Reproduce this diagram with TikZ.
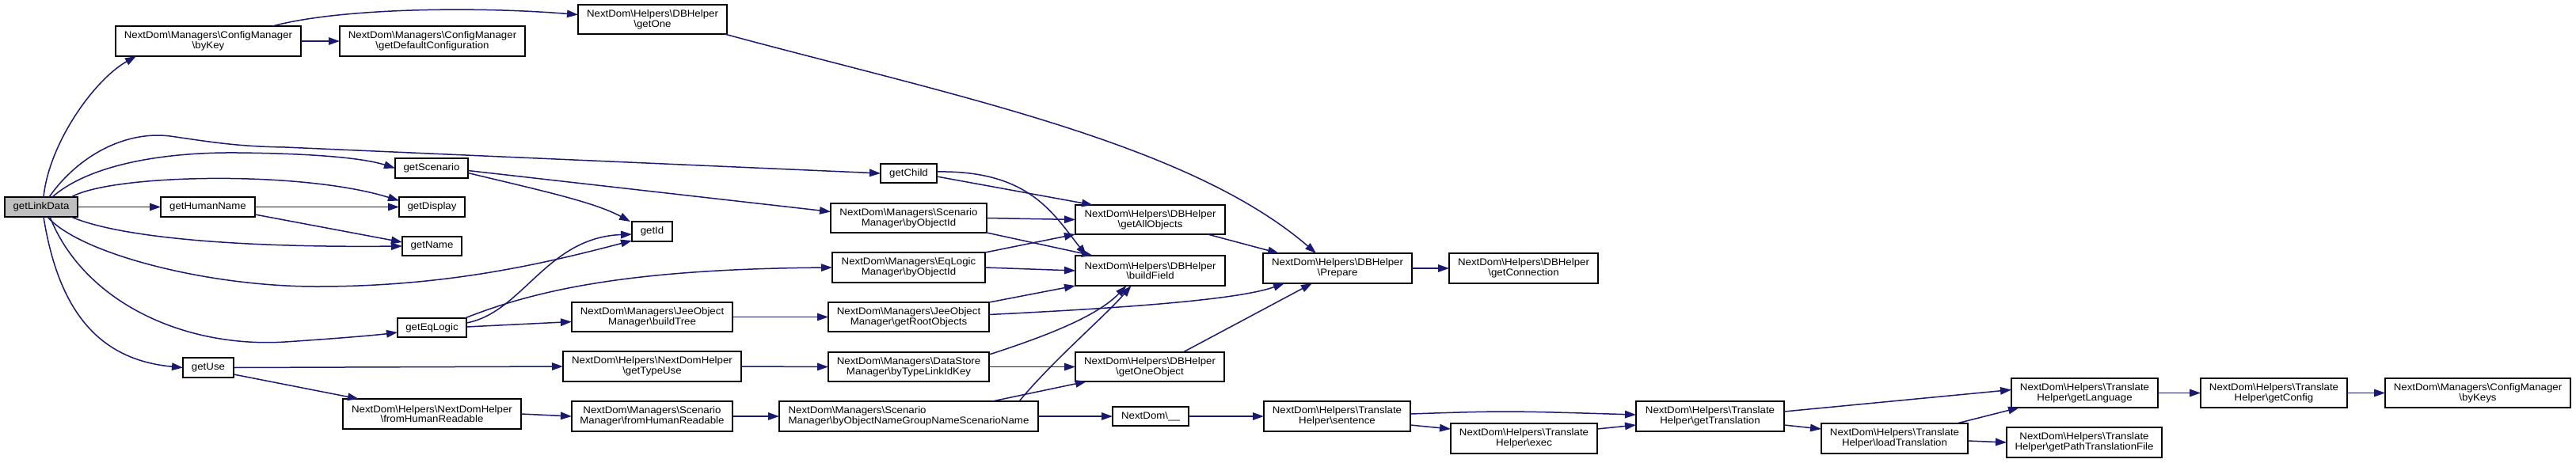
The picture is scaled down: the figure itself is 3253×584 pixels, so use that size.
\documentclass[tikz,border=0pt]{standalone}
\usepackage{fontspec}
\setmainfont{Liberation Sans}[FakeStretch=1.07]
\usetikzlibrary{arrows.meta,calc}
\definecolor{edgecol}{HTML}{191970}
\definecolor{startfill}{HTML}{BFBFBF}
\newcommand\bs{\textbackslash}
\tikzset{
  box/.style={draw=black, line width=1.6pt, fill=white, inner sep=0pt, outer sep=0pt,
    align=center, font=\fontsize{12.4pt}{12.8pt}\selectfont},
  edge/.style={draw=edgecol, line width=1.5pt, -{Triangle[length=14pt,width=9.5pt]}},
}
\newcommand\bx[7][]{\node[box,#1,minimum width={#5-#3},minimum height={#6-#4}] (#2) at ({(#3+#5)/2},{(#4+#6)/2}) {#7};}
\begin{document}
\begin{tikzpicture}[x=1pt,y=-1pt]
\useasboundingbox[fill=white] (0,0) rectangle (3253,584);
% nodes
\bx[fill=startfill]{link}{6}{249}{98}{274}{getLinkData}
\bx{byKey}{146}{33}{380}{71}{NextDom\bs Managers\bs ConfigManager\\\bs byKey}
\bx{defcfg}{429}{33}{663}{71}{NextDom\bs Managers\bs ConfigManager\\\bs getDefaultConfiguration}
\bx{getOne}{730}{6}{918}{43}{NextDom\bs Helpers\bs DBHelper\\\bs getOne}
\bx{getScenario}{499}{200}{591}{225}{getScenario}
\bx{getHumanName}{203}{249}{322}{274}{getHumanName}
\bx{getDisplay}{504}{249}{587}{274}{getDisplay}
\bx{getName}{508}{299}{583}{323}{getName}
\bx{getId}{798}{280}{849}{305}{getId}
\bx{getChild}{1112}{207}{1183}{231}{getChild}
\bx{getEqLogic}{502}{402}{589}{426}{getEqLogic}
\bx{buildTree}{722}{382}{925}{419}{NextDom\bs Managers\bs JeeObject\\Manager\bs buildTree}
\bx{getUse}{231}{452}{295}{477}{getUse}
\bx{getTypeUse}{711}{444}{936}{482}{NextDom\bs Helpers\bs NextDomHelper\\\bs getTypeUse}
\bx{fromHR}{433}{504}{658}{542}{NextDom\bs Helpers\bs NextDomHelper\\\bs fromHumanReadable}
\bx{scenFromHR}{722}{507}{925}{545}{NextDom\bs Managers\bs Scenario\\Manager\bs fromHumanReadable}
\bx[align=left]{byONG}{984}{507}{1311}{545}{NextDom\bs Managers\bs Scenario\\Manager\bs byObjectNameGroupNameScenarioName}
\bx{scenById}{1049}{257}{1246}{294}{NextDom\bs Managers\bs Scenario\\Manager\bs byObjectId}
\bx{eqById}{1051}{319}{1244}{357}{NextDom\bs Managers\bs EqLogic\\Manager\bs byObjectId}
\bx{rootObj}{1046}{382}{1249}{419}{NextDom\bs Managers\bs JeeObject\\Manager\bs getRootObjects}
\bx{byTLK}{1046}{445}{1249}{482}{NextDom\bs Managers\bs DataStore\\Manager\bs byTypeLinkIdKey}
\bx{getAll}{1358}{259}{1547}{296}{NextDom\bs Helpers\bs DBHelper\\\bs getAllObjects}
\bx{buildField}{1358}{323}{1547}{361}{NextDom\bs Helpers\bs DBHelper\\\bs buildField}
\bx{getOneObj}{1358}{445}{1546}{482}{NextDom\bs Helpers\bs DBHelper\\\bs getOneObject}
\bx{prepare}{1595}{320}{1783}{358}{NextDom\bs Helpers\bs DBHelper\\\bs Prepare}
\bx{getConn}{1830}{320}{2018}{358}{NextDom\bs Helpers\bs DBHelper\\\bs getConnection}
\bx{under}{1405}{514}{1501}{538}{NextDom\bs\_\_}
\bx{sentence}{1596}{507}{1781}{545}{NextDom\bs Helpers\bs Translate\\Helper\bs sentence}
\bx{exec}{1832}{535}{2017}{573}{NextDom\bs Helpers\bs Translate\\Helper\bs exec}
\bx{getTrans}{2066}{507}{2253}{545}{NextDom\bs Helpers\bs Translate\\Helper\bs getTranslation}
\bx{loadTrans}{2300}{535}{2485}{573}{NextDom\bs Helpers\bs Translate\\Helper\bs loadTranslation}
\bx{getLang}{2540}{478}{2725}{515}{NextDom\bs Helpers\bs Translate\\Helper\bs getLanguage}
\bx{getPath}{2534}{540}{2730}{578}{NextDom\bs Helpers\bs Translate\\Helper\bs getPathTranslationFile}
\bx{getConfig}{2779}{478}{2964}{515}{NextDom\bs Helpers\bs Translate\\Helper\bs getConfig}
\bx{byKeys}{3012}{478}{3246}{515}{NextDom\bs Managers\bs ConfigManager\\\bs byKeys}
% edges from getLinkData
\draw[edge] ($(link.north)+(3,0)$) .. controls (62,180) and (120,100) .. ($(byKey.south west)+(26,0)$);
\draw[edge] ($(link.north)+(10,0)$) .. controls (100,195) and (160,165) .. (215,172) .. controls (270,180) and (300,185) .. (360,186) -- (getChild.west);
\draw[edge] ($(link.north)+(14,0)$) .. controls (110,210) and (200,192) .. (300,193) .. controls (400,194) and (460,200) .. (getScenario.west);
\draw[edge] ($(link.north east)+(-8,0)$) .. controls (140,220) and (380,215) .. ($(getDisplay.west)+(0,-8)$);
\draw[edge] (link.east) -- (getHumanName.west);
\draw[edge] ($(link.south east)+(-8,0)$) .. controls (150,300) and (300,313) .. (getName.west);
\draw[edge] ($(link.south)+(8,0)$) .. controls (100,320) and (260,362) .. (400,362) .. controls (560,362) and (680,335) .. ($(getId.south west)+(0,-1)$);
\draw[edge] ($(link.south)+(11,0)$) .. controls (105,380) and (230,440) .. (360,432) .. controls (420,428) and (470,424) .. ($(getEqLogic.west)+(0,6)$);
\draw[edge] ($(link.south)+(3,0)$) .. controls (75,400) and (130,455) .. (getUse.west);
% other edges
\draw[edge] (byKey.east) -- (defcfg.west);
\draw[edge] ($(byKey.north)+(81,0)$) .. controls (430,10) and (600,8) .. ($(getOne.west)+(0,-6)$);
\draw[edge] ($(getOne.south east)+(-3,0)$) .. controls (1200,120) and (1500,180) .. ($(prepare.north west)+(67,0)$);
\draw[edge] (getHumanName.east) -- (getDisplay.west);
\draw[edge] ($(getHumanName.south east)+(0,-3)$) -- ($(getName.west)+(0,-5)$);
\draw[edge] ($(getScenario.east)+(0,6)$) .. controls (680,240) and (750,255) .. ($(getId.north west)+(-2,0)$);
\draw[edge] ($(getScenario.east)+(0,3)$) -- ($(scenById.west)+(0,-8)$);
\draw[edge] ($(getChild.east)+(0,4)$) -- ($(getAll.north west)+(22,0)$);
\draw[edge] ($(getChild.east)+(0,-2)$) .. controls (1300,215) and (1330,270) .. ($(buildField.north west)+(14,0)$);
\draw[edge] (scenById.east) -- (getAll.west);
\draw[edge] (scenById.south east) -- ($(buildField.north west)+(22,0)$);
\draw[edge] (eqById.north east) -- (getAll.south west);
\draw[edge] (eqById.east) -- (buildField.west);
\draw[edge] ($(getEqLogic.east)+(0,-6)$) .. controls (660,395) and (690,300) .. ($(getId.west)+(0,3.5)$);
\draw[edge] ($(getEqLogic.north east)+(-2,0)$) .. controls (680,365) and (800,340) .. (eqById.west);
\draw[edge] ($(getEqLogic.east)+(0,-1)$) -- ($(buildTree.west)+(0,6)$);
\draw[edge] (buildTree.east) -- (rootObj.west);
\draw[edge] (rootObj.north east) -- (buildField.south west);
\draw[edge] ($(rootObj.east)+(0,-3)$) .. controls (1400,390) and (1560,380) .. ($(prepare.south west)+(27,0)$);
\draw[edge] (getUse.east) -- (getTypeUse.west);
\draw[edge] ($(getUse.south east)+(0,-4)$) -- ($(fromHR.north west)+(20,0)$);
\draw[edge] (getTypeUse.east) -- (byTLK.west);
\draw[edge] (fromHR.east) -- (scenFromHR.west);
\draw[edge] (scenFromHR.east) -- (byONG.west);
\draw[edge] (byTLK.east) -- (getOneObj.west);
\draw[edge] ($(byTLK.north east)+(0,3)$) .. controls (1320,425) and (1385,400) .. ($(buildField.south)+(-30,0)$);
\draw[edge] ($(byONG.north east)+(-58,0)$) -- ($(getOneObj.south west)+(14,0)$);
\draw[edge] ($(byONG.north east)+(-24,0)$) .. controls (1330,455) and (1395,400) .. ($(buildField.south)+(-24,0)$);
\draw[edge] (byONG.east) -- (under.west);
\draw[edge] ($(getAll.south east)+(-22,0)$) -- ($(prepare.north west)+(20,0)$);
\draw[edge] ($(getOneObj.north)+(42,0)$) -- ($(prepare.south west)+(62,0)$);
\draw[edge] (prepare.east) -- (getConn.west);
\draw[edge] (under.east) -- (sentence.west);
\draw[edge] ($(sentence.east)+(0,-3)$) .. controls (1900,519) .. ($(getTrans.west)+(0,-2)$);
\draw[edge] ($(sentence.east)+(0,11)$) -- ($(exec.west)+(0,-12)$);
\draw[edge] ($(exec.east)+(0,-12)$) -- ($(getTrans.west)+(0,11)$);
\draw[edge] ($(getTrans.east)+(0,-6)$) -- ($(getLang.west)+(0,-4)$);
\draw[edge] ($(getTrans.east)+(0,11)$) -- ($(loadTrans.west)+(0,-12)$);
\draw[edge] ($(loadTrans.north east)+(-14,0)$) -- ($(getLang.south west)+(10,0)$);
\draw[edge] ($(loadTrans.east)+(0,3)$) -- (getPath.west);
\draw[edge] (getLang.east) -- (getConfig.west);
\draw[edge] (getConfig.east) -- (byKeys.west);
\end{tikzpicture}
\end{document}
